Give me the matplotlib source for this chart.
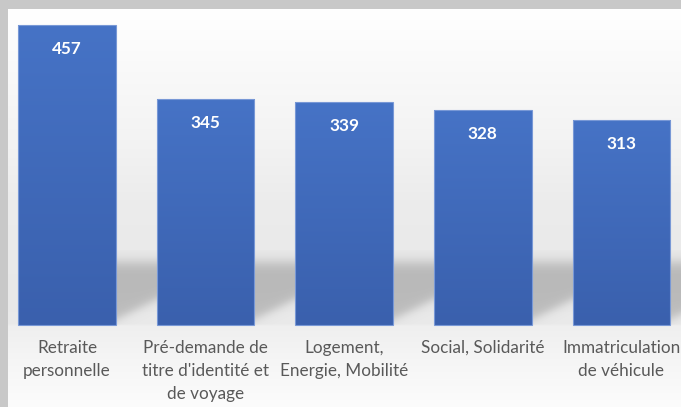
import matplotlib.pyplot as plt
import numpy as np
from matplotlib.colors import to_rgb


CATEGORIES = [
    "Retraite\npersonnelle",
    "Pré-demande de\ntitre d'identité et\nde voyage",
    "Logement,\nEnergie, Mobilité",
    "Social, Solidarité",
    "Immatriculation\nde véhicule",
]
VALUES = [457, 345, 339, 328, 313]

BAR_TOP = "#4673C6"
BAR_BOTTOM = "#3A60AD"
BAR_EDGE = "#7898D6"
LABEL_GREY = "#595959"
FRAME_GREY = "#C8C8C8"

BAR_WIDTH = 0.705
XLIM = (-0.4257, 4.430)
YLIM = (-124.9, 481.4)


def background(ax):
    # vertical light-grey wash, stops given as (axes fraction from top, grey level)
    stops = np.array([
        (0.00, 255), (0.13, 250), (0.33, 243), (0.48, 236),
        (0.73, 232), (0.793, 234), (0.797, 239), (0.88, 245), (1.00, 252),
    ])
    t = np.linspace(0, 1, 400)
    grey = np.interp(t, stops[:, 0], stops[:, 1]) / 255
    img = np.repeat(grey[:, None, None], 3, axis=2)
    ax.imshow(img, extent=(*XLIM, *YLIM), aspect="auto", zorder=0,
              interpolation="bilinear")


def gap_shadow(ax, left, right):
    # soft perspective shadow in the gap right of a bar
    ny, nx = 120, 60
    u = np.linspace(0, 1, nx)[None, :]
    v = np.linspace(1, 0, ny)[:, None]
    top = 1 / (1 + np.exp((v - 0.84) / 0.05))
    bottom_edge = 0.07 + 0.27 * u
    bottom = 1 / (1 + np.exp(-(v - bottom_edge) / 0.04))
    alpha = 0.55 * top * bottom * (0.85 + 0.15 * v)
    rgba = np.zeros((ny, nx, 4))
    rgba[..., :3] = 0.55
    rgba[..., 3] = alpha
    ax.imshow(rgba, extent=(left, right, 0, 114), aspect="auto", zorder=1,
              interpolation="bilinear")


def main():
    plt.rcParams["font.family"] = ["Lato", "DejaVu Sans"]
    fig = plt.figure(figsize=(6.81, 4.07), dpi=100, facecolor=FRAME_GREY)
    ax = fig.add_axes([8 / 681, 0, 673 / 681, 398 / 407])
    ax.axis("off")

    background(ax)

    x = np.arange(len(VALUES))
    for i in x:
        gap_shadow(ax, i + BAR_WIDTH / 2, i + 1 - BAR_WIDTH / 2)

    bars = ax.bar(x, VALUES, width=BAR_WIDTH, color=BAR_TOP, linewidth=0, zorder=3)
    top_rgb = np.array(to_rgb(BAR_TOP))
    bottom_rgb = np.array(to_rgb(BAR_BOTTOM))
    t = np.linspace(0, 1, 100)[:, None]
    grad = (top_rgb * (1 - t) + bottom_rgb * t)[:, None, :]
    for bar in bars:
        x0 = bar.get_x()
        im = ax.imshow(grad, extent=(x0, x0 + bar.get_width(), 0, bar.get_height()),
                       aspect="auto", zorder=3.2, interpolation="bilinear")
        im.set_clip_path(bar)
    ax.bar(x, VALUES, width=BAR_WIDTH, fill=False, edgecolor=BAR_EDGE,
           linewidth=0.8, zorder=3.4)

    for xi, value in zip(x, VALUES):
        ax.annotate(str(value), (xi, value), xytext=(0, -24),
                    textcoords="offset pixels", ha="center", va="center",
                    color="white", fontweight="bold", fontsize=12.3, zorder=5)

    for xi, label in zip(x, CATEGORIES):
        ax.annotate(label, (xi, 0), xytext=(0, -15),
                    textcoords="offset pixels", ha="center", va="top",
                    multialignment="center", color=LABEL_GREY, fontsize=12.3,
                    linespacing=1.52, zorder=5, annotation_clip=False)

    ax.set_xlim(*XLIM)
    ax.set_ylim(*YLIM)
    fig.savefig("out.png", dpi=100, facecolor=FRAME_GREY)


if __name__ == "__main__":
    main()
